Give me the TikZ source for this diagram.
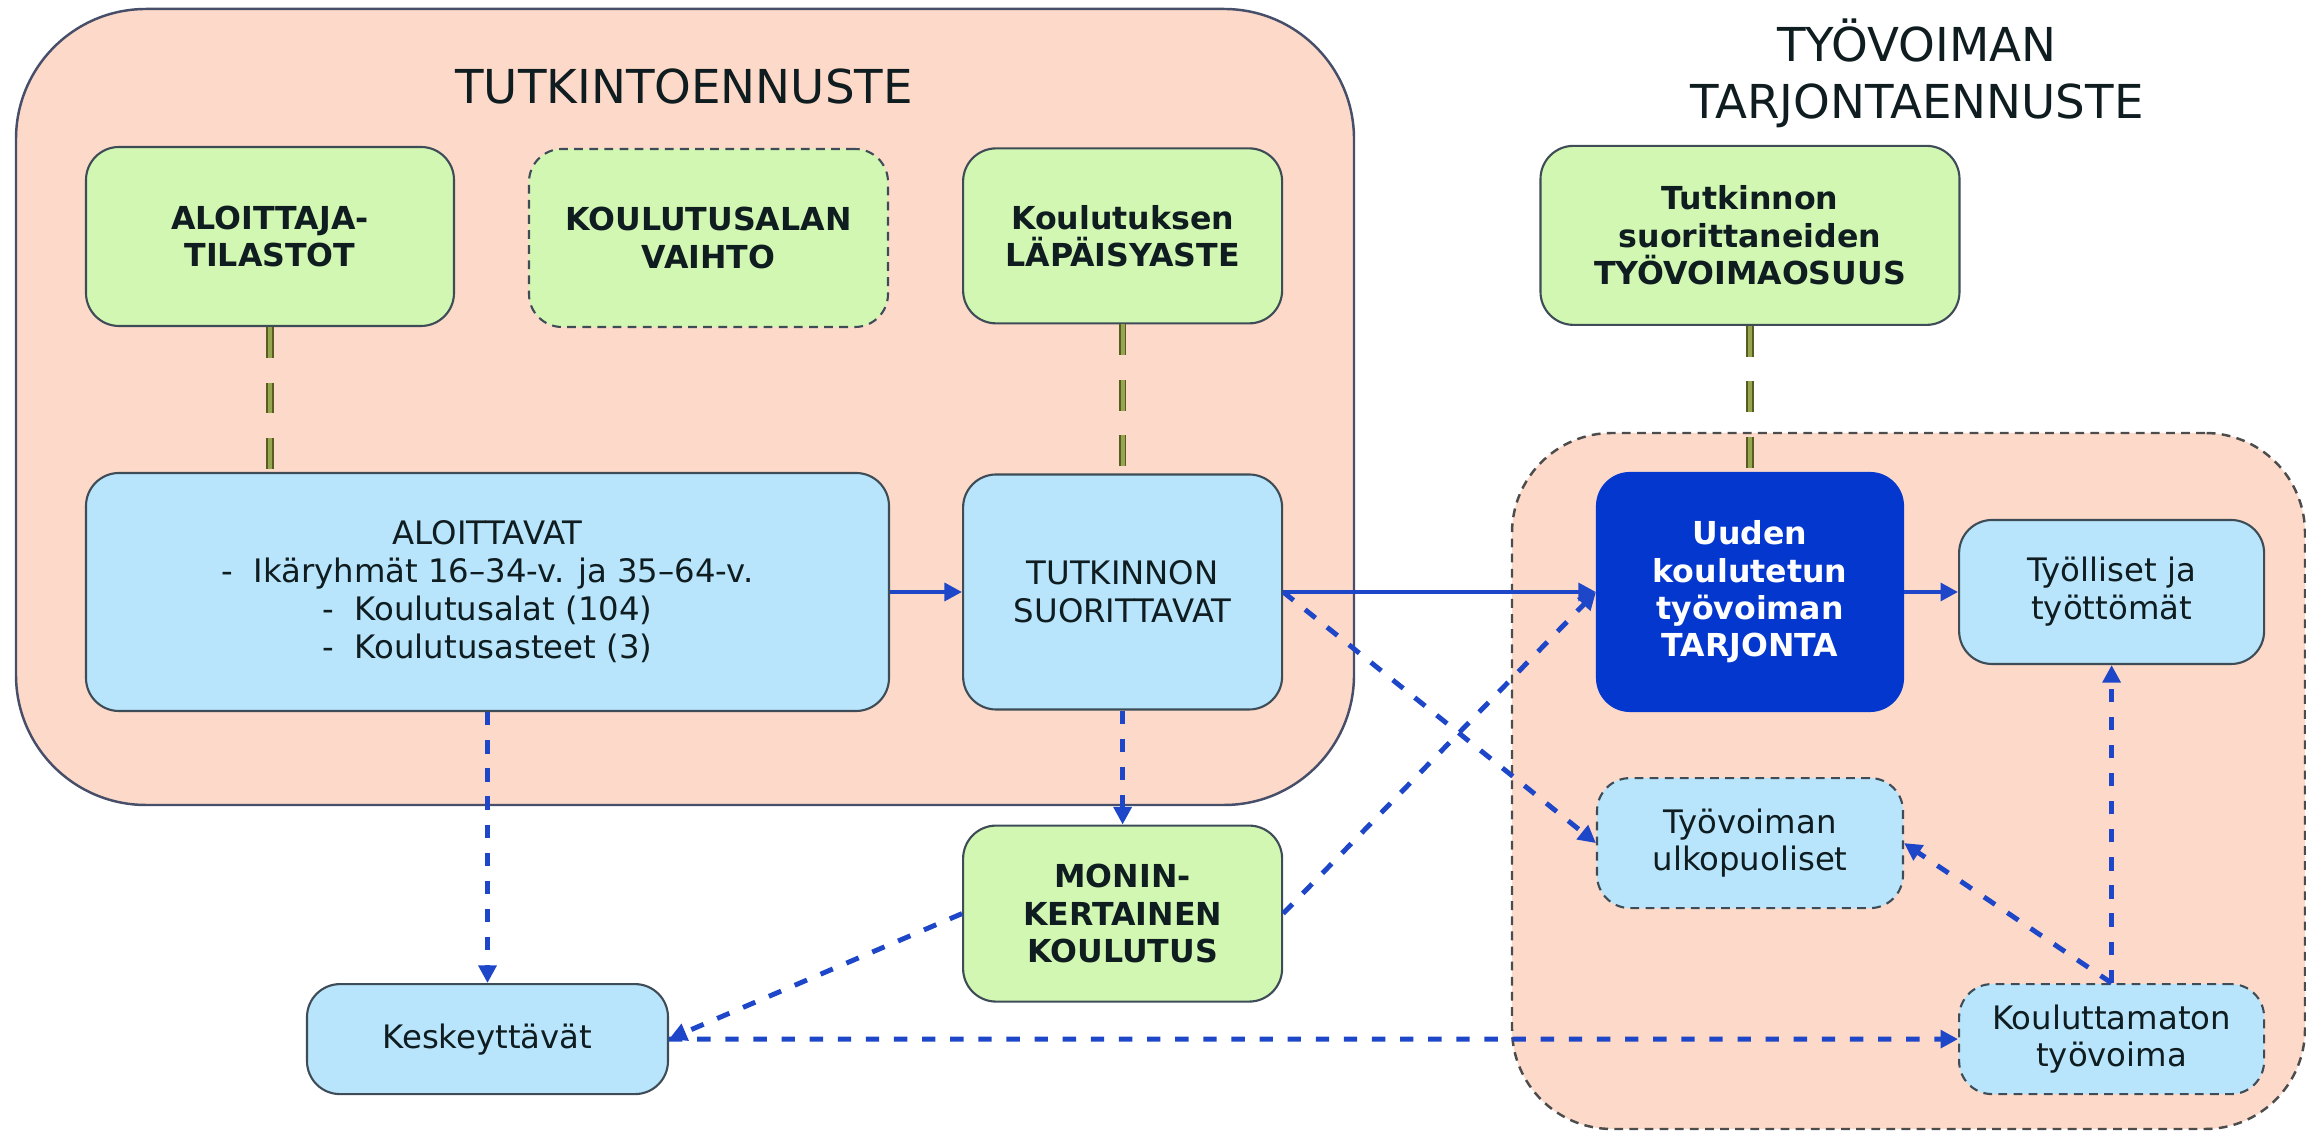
\documentclass[tikz,border=0pt]{standalone}
\usepackage{fontspec}
\setmainfont{DejaVu Sans}
\usetikzlibrary{positioning,arrows.meta}

\definecolor{peach}{RGB}{252,217,200}
\definecolor{lightgreen}{RGB}{210,247,178}
\definecolor{lightblue}{RGB}{184,229,251}
\definecolor{darkblue}{RGB}{3,55,205}
\definecolor{arrowblue}{RGB}{30,70,200}
\definecolor{edge}{RGB}{62,76,88}
\definecolor{paneledge}{RGB}{70,78,105}
\definecolor{olivedark}{RGB}{88,92,32}
\definecolor{olivelight}{RGB}{150,165,80}
\definecolor{ink}{RGB}{15,28,32}

\begin{document}
\begin{tikzpicture}[basebox/.style={rectangle,rounded corners=0.33cm,draw=edge,line width=0.6pt,text=ink,align=center,font=\fontsize{9.2}{10.8}\selectfont},
		greenbox/.style={basebox,fill=lightgreen,font=\fontsize{9}{10.6}\selectfont\bfseries},
		bluebox/.style={basebox,fill=lightblue},
		darkbox/.style={basebox,fill=darkblue,draw=darkblue,text=white,font=\fontsize{9}{10.6}\selectfont\bfseries},
		dashedbox/.style={dash pattern=on 2.5pt off 1.8pt},
		panel/.style={rectangle,fill=peach,draw=paneledge,line width=0.7pt},
		heading/.style={font=\fontsize{13.3}{16.2}\selectfont,align=center,text=ink},
		flow/.style={draw=arrowblue,line width=1.4pt,-{Triangle[length=5pt,width=5pt]}},
		dflow/.style={flow,dash pattern=on 3.8pt off 4.2pt},
		link/.style={draw=olivedark,double=olivelight,double distance=1.1pt,line width=0.55pt,dash pattern=on 8.8pt off 7pt}]
		\useasboundingbox (0,0) rectangle (23.06,11.32);
		\node[panel,rounded corners=1.3cm,minimum width=13.38cm,minimum height=7.96cm] (tutkinto) at (6.85,7.25) {};
		\node[panel,dashedbox,draw=black!70,rounded corners=1cm,minimum width=7.93cm,minimum height=6.96cm] (tarjontapaneeli) at (19.085,3.51) {};
		\node[heading] (tutkintootsikko) at (6.84,10.45) {TUTKINTOENNUSTE};
		\node[heading] (tarjontaotsikko) at (19.17,10.585) {TYÖVOIMAN\\TARJONTAENNUSTE};
		\node[greenbox,minimum width=3.68cm,minimum height=1.79cm] (aloittajat) at (2.70,8.955) {ALOITTAJA-\\TILASTOT};
		\node[greenbox,dashedbox,minimum width=3.59cm,minimum height=1.78cm] (vaihto) at (7.085,8.94) {KOULUTUSALAN\\VAIHTO};
		\node[bluebox,minimum width=8.03cm,minimum height=2.38cm] (aloittavat) at (4.875,5.40) {ALOITTAVAT\\-\ \ Ikäryhmät 16–34-v. ja 35–64-v.\\-\ \ Koulutusalat (104)\\-\ \ Koulutusasteet (3)};
		\node[bluebox,minimum width=3.19cm,minimum height=2.35cm] (suorittavat) [right=0.72cm of aloittavat] {TUTKINNON\\SUORITTAVAT};
		\node[greenbox,minimum width=3.19cm,minimum height=1.75cm] (lapaisy) [above=1.49cm of suorittavat] {Koulutuksen\\LÄPÄISYASTE};
		\node[greenbox,minimum width=3.19cm,minimum height=1.76cm] (monin) [below=1.14cm of suorittavat] {MONIN-\\KERTAINEN\\KOULUTUS};
		\node[bluebox,minimum width=3.61cm,minimum height=1.10cm] (keskeyttavat) [below=2.71cm of aloittavat] {Keskeyttävät};
		\node[darkbox,minimum width=3.06cm,minimum height=2.38cm] (tarjonta) at (17.50,5.40) {Uuden\\koulutetun\\työvoiman\\TARJONTA};
		\node[greenbox,minimum width=4.19cm,minimum height=1.79cm] (osuus) [above=1.46cm of tarjonta] {Tutkinnon\\suorittaneiden\\TYÖVOIMAOSUUS};
		\node[bluebox,minimum width=3.05cm,minimum height=1.44cm] (tyolliset) [right=0.54cm of tarjonta] {Työlliset ja\\työttömät};
		\node[bluebox,dashedbox,minimum width=3.06cm,minimum height=1.30cm] (ulkopuoliset) [below=0.65cm of tarjonta] {Työvoiman\\ulkopuoliset};
		\node[bluebox,dashedbox,minimum width=3.05cm,minimum height=1.10cm] (kouluttamaton) [below=3.18cm of tyolliset] {Kouluttamaton\\työvoima};
		\draw[link] (aloittajat.south) -- (aloittajat.south |- aloittavat.north);
		\draw[link] (lapaisy) -- (suorittavat);
		\draw[link] (osuus.south) -- (osuus.south |- tarjonta.north);
		\draw[flow] (aloittavat) -- (suorittavat);
		\draw[flow] (suorittavat) -- (tarjonta);
		\draw[flow] (tarjonta) -- (tyolliset);
		\draw[dflow] (suorittavat.east) -- (ulkopuoliset.west);
		\draw[dflow] (monin.east) -- (tarjonta.west);
		\draw[dflow] (aloittavat) -- (keskeyttavat);
		\draw[dflow] (suorittavat) -- (monin);
		\draw[dflow] (monin.west) -- (keskeyttavat.east);
		\draw[dflow] (keskeyttavat.east) -- (kouluttamaton.west);
		\draw[dflow] (kouluttamaton.north) -- (tyolliset.south);
		\draw[dflow] (kouluttamaton.north) -- (ulkopuoliset.east);
	\end{tikzpicture}
\end{document}
